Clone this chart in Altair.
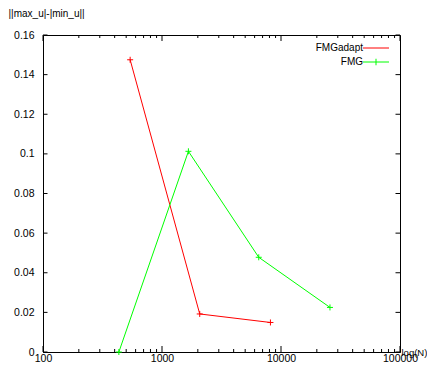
import altair as alt
import pandas as pd

# ---- data ----
series = ["FMGadapt", "FMG"]
colors = ["#ff0000", "#00ff00"]

adapt_n = [540, 2075, 8150]
adapt_v = [0.1475, 0.0192, 0.0149]
fmg_n = [434, 1667, 6500, 25800]
fmg_v = [0.0, 0.1013, 0.0478, 0.0225]

y_ticks = [0, 0.02, 0.04, 0.06, 0.08, 0.1, 0.12, 0.14, 0.16]
x_major = [100, 1000, 10000, 100000]
x_minor = [m * d for d in [100, 1000, 10000] for m in range(2, 10)]

W, H = 357, 317
FONT = "Liberation Sans"
FS = 10.5

df = pd.DataFrame({
    "n": adapt_n + fmg_n,
    "v": adapt_v + fmg_v,
    "s": [series[0]] * len(adapt_n) + [series[1]] * len(fmg_n),
})
df_major = pd.DataFrame({"n": x_major})
df_minor = pd.DataFrame({"n": x_minor})
df_yt = pd.DataFrame({"v": y_ticks})

x_scale = alt.Scale(type="log", domain=[100, 100000], nice=False)
y_scale = alt.Scale(domain=[0, 0.16], nice=False, zero=False)

x_enc = alt.X("n:Q", scale=x_scale, axis=alt.Axis(
    values=x_major, format="d", tickSize=0, grid=False, labelPadding=9,
    labelBaseline="alphabetic",
    domainColor="black", title="log(N)", titleX=W + 1, titleY=0,
    titleAlign="left", titleBaseline="middle", titleFontWeight="normal",
    titleFontSize=9.5, labelFlush=False))
y_enc = alt.Y("v:Q", scale=y_scale, axis=alt.Axis(
    values=y_ticks, format="~g", tickSize=0, grid=False, labelPadding=9,
    domainColor="black", title="||max_u|-|min_u||", titleAngle=0,
    titleX=-35, titleY=-22, titleAlign="left", titleBaseline="middle",
    titleFontWeight="normal", titleFontSize=10))

legend = alt.Legend(title=None, orient="none", legendX=326, legendY=6,
                    symbolSize=169, symbolStrokeWidth=1, labelAlign="right",
                    labelOffset={"expr": "-20"}, rowPadding=2, padding=0,
                    labelFont=FONT, labelFontSize=10, labelColor="black")
color_enc = alt.Color("s:N", scale=alt.Scale(domain=series, range=colors),
                      legend=legend)
shape_enc = alt.Shape("s:N", scale=alt.Scale(
    domain=series, range=["M-2,0H2", "M-2,0H2M0,-0.5V0.5"]), legend=legend)

base = alt.Chart(df)
lines = base.mark_line(strokeWidth=1).encode(x=x_enc, y=y_enc, color=color_enc)
points = base.mark_point(shape="M-1,0H1M0,-1V1", size=36, filled=False,
                         strokeWidth=1, opacity=1).encode(
    x=x_enc, y=y_enc, color=color_enc)
legend_helper = base.mark_point(filled=False, opacity=1, strokeWidth=1).encode(
    x=x_enc, y=y_enc, color=color_enc, shape=shape_enc
).transform_filter("false")

tick_style = dict(color="black", opacity=1, thickness=1)
bot_major = alt.Chart(df_major).mark_tick(orient="vertical", size=6, yOffset=-3, **tick_style).encode(
    x=x_enc, y=alt.value(H))
top_major = alt.Chart(df_major).mark_tick(orient="vertical", size=6, yOffset=3, **tick_style).encode(
    x=x_enc, y=alt.value(0))
bot_minor = alt.Chart(df_minor).mark_tick(orient="vertical", size=3, yOffset=-1.5, **tick_style).encode(
    x=x_enc, y=alt.value(H))
top_minor = alt.Chart(df_minor).mark_tick(orient="vertical", size=3, yOffset=1.5, **tick_style).encode(
    x=x_enc, y=alt.value(0))
left_t = alt.Chart(df_yt).mark_tick(orient="horizontal", size=4.5, xOffset=2.25, **tick_style).encode(
    y=y_enc, x=alt.value(0))
right_t = alt.Chart(df_yt).mark_tick(orient="horizontal", size=4.5, xOffset=-2.25, **tick_style).encode(
    y=y_enc, x=alt.value(W))

chart = alt.layer(
    bot_major, top_major, bot_minor, top_minor, left_t, right_t,
    lines, points, legend_helper
).properties(
    width=W, height=H,
    padding={"left": 35, "top": 27, "right": 27, "bottom": 13},
    autosize=alt.AutoSizeParams(type="none"),
    background="white",
).configure_view(
    stroke="black", strokeWidth=1
).configure_axis(
    labelFont=FONT, labelFontSize=FS, labelColor="black",
    titleFont=FONT, titleColor="black",
).configure_legend(
    labelFont=FONT, labelFontSize=10,
)

chart.save("out.html", embed_options={"renderer": "svg", "actions": False})
